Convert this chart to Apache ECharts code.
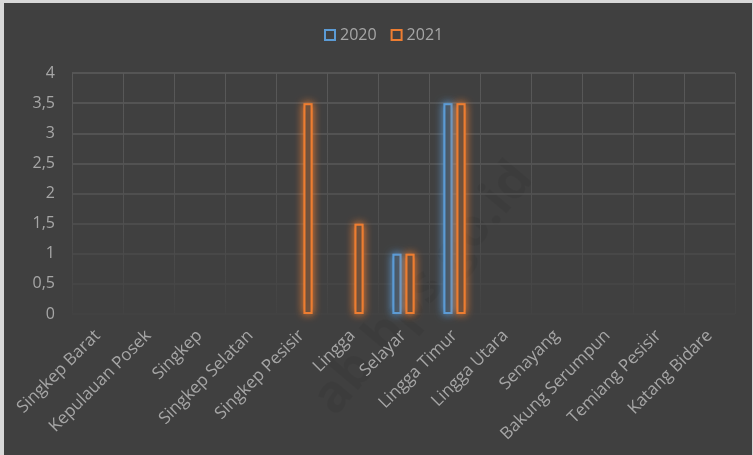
<!DOCTYPE html>
<html><head><meta charset="utf-8">
<script src="https://cdn.jsdelivr.net/npm/echarts@6/dist/echarts.min.js"></script>
<style>
html,body{margin:0;padding:0;background:#d9d9d9;}
#wrap{position:relative;width:753px;height:455px;background:#d9d9d9;overflow:hidden;}
#chart{position:absolute;left:4px;top:3px;width:748px;height:452px;}
</style></head>
<body><div id="wrap"><div id="chart"></div></div>
<script>
const categories = ['Singkep Barat','Kepulauan Posek','Singkep','Singkep Selatan','Singkep Pesisir','Lingga','Selayar','Lingga Timur','Lingga Utara','Senayang','Bakung Serumpun','Temiang Pesisir','Katang Bidare'];
const seriesNames = ['2020','2021'];
const values2020 = [0,0,0,0,0,0,1,3.5,0,0,0,0,0];
const values2021 = [0,0,0,0,3.5,1.5,1,3.5,0,0,0,0,0];
const yTicks = [0,0.5,1,1.5,2,2.5,3,3.5,4];

const colors = ['#5b9bd5','#ed7d31'];
const glowA = ['rgba(91,155,213,0.45)','rgba(237,125,49,0.45)'];
const glowB = ['rgba(91,155,213,0.2)','rgba(237,125,49,0.2)'];
const chart = echarts.init(document.getElementById('chart'), null, {renderer:'canvas'});
function barSeries(name, data, i){
  return {
    name: name, type:'bar', data: data.map(v => v === 0 ? null : v), z:3,
    barWidth: 9, barGap: '45%',
    itemStyle: {color:'#404040', borderColor:colors[i], borderWidth:2, shadowBlur:8, shadowColor:colors[i]},
    emphasis:{disabled:true}
  };
}
function glowSeries(name, data, i, axis, w, col){
  return {
    name: name + '_glow' + axis, type:'bar', xAxisIndex:axis, data: data.map(v => v === 0 ? null : v), z:2,
    barWidth: 9, barGap: '45%', silent:true,
    itemStyle: {color:'rgba(0,0,0,0)', borderColor:col[i], borderWidth:w},
    emphasis:{disabled:true}
  };
}
const hiddenAxis = {type:'category', data:categories, show:false};
chart.setOption({
  backgroundColor:'#404040',
  animation:false,
  graphic:[{type:'text', left:300, top:150, rotation:Math.PI*50/180, origin:[150,120], silent:true, z:-1,
    style:{text:'ab.bps.go.id', fontSize:52, fontWeight:'bold', fontFamily:'Open Sans', fill:'rgba(0,0,0,0.05)'}}],
  legend:{top:19, left:315, itemWidth:10, itemHeight:10, itemGap:14,
    textStyle:{color:'#a6a6a6', fontSize:16, fontFamily:'Open Sans'},
    data: seriesNames.map((n,i)=>({name:n, icon:'rect', itemStyle:{color:'rgba(0,0,0,0)', borderColor:colors[i], borderWidth:2, shadowBlur:0}}))},
  grid:{left:68, right:17, top:70, bottom:141},
  xAxis:[{type:'category', data:categories,
    axisLine:{show:false}, axisTick:{show:false},
    axisLabel:{rotate:45, interval:0, margin:19, color:'#a6a6a6', fontSize:17, fontFamily:'Open Sans'},
    splitLine:{show:true, lineStyle:{width:1, color:new echarts.graphic.LinearGradient(0,0,0,1,[{offset:0,color:'#595959'},{offset:0.6,color:'#505050'},{offset:1,color:'#424242'}])}}
  }, hiddenAxis, Object.assign({}, hiddenAxis)],
  yAxis:{type:'value', min:0, max:4, interval:0.5,
    axisLine:{show:false}, axisTick:{show:false},
    axisLabel:{margin:17, color:'#a6a6a6', fontSize:16, fontFamily:'Open Sans',
      formatter: v => String(v).replace('.',',')},
    splitLine:{lineStyle:{width:1.5, color:['#434343','#474747','#4b4b4b','#505050','#555555','#585858','#5a5a5a','#5b5b5b','#5c5c5c']}}
  },
  series:[
    glowSeries(seriesNames[0], values2020, 0, 1, 6, glowA), glowSeries(seriesNames[1], values2021, 1, 1, 6, glowA),
    glowSeries(seriesNames[0], values2020, 0, 2, 10, glowB), glowSeries(seriesNames[1], values2021, 1, 2, 10, glowB),
    barSeries(seriesNames[0], values2020, 0), barSeries(seriesNames[1], values2021, 1)]
});
</script></body></html>
